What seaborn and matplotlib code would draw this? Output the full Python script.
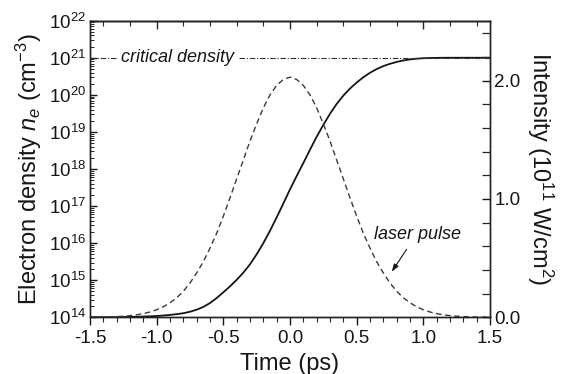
import numpy as np
import matplotlib
matplotlib.use("Agg")
import matplotlib.pyplot as plt
import seaborn as sns
from matplotlib.ticker import (LogLocator, NullFormatter, FixedLocator,
                               FormatStrFormatter, MultipleLocator)

# ---------------- data ----------------
time_ps = [-1.50, -1.45, -1.40, -1.35, -1.30, -1.25, -1.20, -1.15, -1.10, -1.05,
           -1.00, -0.95, -0.90, -0.85, -0.80, -0.75, -0.70, -0.65, -0.60, -0.55,
           -0.50, -0.45, -0.40, -0.35, -0.30, -0.25, -0.20, -0.15, -0.10, -0.05,
           0.00, 0.05, 0.10, 0.15, 0.20, 0.25, 0.30, 0.35, 0.40, 0.45,
           0.50, 0.55, 0.60, 0.65, 0.70, 0.75, 0.80, 0.85, 0.90, 0.95,
           1.00, 1.05, 1.10, 1.15, 1.20, 1.25, 1.30, 1.35, 1.40, 1.45, 1.50]

# log10 of electron density (cm^-3)
log10_density = [14.000, 14.001, 14.002, 14.003, 14.005, 14.007, 14.010, 14.014, 14.020, 14.027,
                 14.035, 14.048, 14.065, 14.085, 14.110, 14.150, 14.205, 14.280, 14.385, 14.520,
                 14.675, 14.835, 15.010, 15.205, 15.430, 15.700, 16.000, 16.335, 16.695, 17.070,
                 17.450, 17.810, 18.160, 18.520, 18.870, 19.190, 19.490, 19.755, 19.980, 20.170,
                 20.330, 20.475, 20.595, 20.695, 20.775, 20.837, 20.887, 20.927, 20.955, 20.975,
                 20.988, 20.994, 20.997, 20.999, 21.000, 21.000, 21.000, 21.000, 21.000, 21.000, 21.000]

# laser intensity (10^11 W/cm^2)
intensity = [0.001, 0.001, 0.002, 0.004, 0.006, 0.009, 0.014, 0.021, 0.031, 0.045,
             0.064, 0.089, 0.123, 0.165, 0.220, 0.290, 0.375, 0.470, 0.585, 0.710,
             0.855, 1.010, 1.170, 1.330, 1.490, 1.635, 1.770, 1.880, 1.960, 2.010,
             2.030, 2.010, 1.960, 1.880, 1.770, 1.635, 1.490, 1.330, 1.170, 1.010,
             0.855, 0.710, 0.585, 0.470, 0.375, 0.290, 0.220, 0.165, 0.123, 0.089,
             0.064, 0.045, 0.031, 0.021, 0.014, 0.009, 0.006, 0.004, 0.002, 0.001, 0.001]

critical_density = 1e21
x_ticklabels = ["-1.5", "-1.0", "-0.5", "0.0", "0.5", "1.0", "1.5"]
right_ticks = [0.0, 1.0, 2.0]

# ---------------- style ----------------
sns.set_style("ticks")
plt.rcParams["font.family"] = ["Liberation Sans", "DejaVu Sans"]
plt.rcParams["mathtext.fontset"] = "custom"
plt.rcParams["mathtext.rm"] = "Liberation Sans"
plt.rcParams["mathtext.it"] = "Liberation Sans:italic"
plt.rcParams["mathtext.bf"] = "Liberation Sans:bold"
plt.rcParams["axes.unicode_minus"] = False

ink = "#161616"
fig = plt.figure(figsize=(5.63, 3.74), dpi=100)
fig.subplots_adjust(left=0.1599, right=0.8703, bottom=0.1516, top=0.9447)
ax = fig.add_subplot(111)
ax.set_yscale("log")
ax2 = ax.twinx()

density = [10.0 ** v for v in log10_density]

sns.lineplot(x=time_ps, y=density, ax=ax, color=ink, lw=1.3,
             estimator=None, sort=False)
sns.lineplot(x=time_ps, y=intensity, ax=ax2, color="#3a3a3a", lw=1.0,
             estimator=None, sort=False)
ax2.lines[-1].set_linestyle((0, (4.0, 2.6)))

# critical density line (broken around its label)
crit_style = (0, (5, 1.6, 1, 1.6))
ax.hlines(critical_density, -1.5, -1.29, colors="#333333", lw=0.8, linestyles=[crit_style])
ax.hlines(critical_density, -0.38, 1.5, colors="#333333", lw=0.8, linestyles=[crit_style])
ax.text(-1.265, critical_density, "critical density", style="italic",
        fontsize=13, color=ink, ha="left", va="center")

# laser pulse annotation
ax2.text(0.955, 0.70, "laser pulse", style="italic", fontsize=13,
         color=ink, ha="center", va="center")
ax2.annotate("", xy=(0.763, 0.385), xytext=(0.875, 0.575),
             arrowprops=dict(arrowstyle="-|>,head_length=0.45,head_width=0.15",
                             color=ink, lw=0.8, shrinkA=0, shrinkB=0))

# ---------------- axes ----------------
ax.set_xlim(-1.5, 1.5)
ax.set_ylim(1e14, 1e22)
ax2.set_ylim(0, 2.507)

ax.set_xticks([-1.5, -1.0, -0.5, 0.0, 0.5, 1.0, 1.5])
ax.set_xticklabels(x_ticklabels)
ax.xaxis.set_minor_locator(MultipleLocator(0.1))
ax.yaxis.set_major_locator(LogLocator(base=10, numticks=20))
ax.yaxis.set_minor_locator(LogLocator(base=10, subs=np.arange(2, 10), numticks=20))
ax.yaxis.set_minor_formatter(NullFormatter())

ax.tick_params(axis="x", which="major", direction="out", length=6, width=1,
               pad=3.5, labelsize=13.5, colors=ink, top=False)
ax.tick_params(axis="x", which="minor", direction="out", length=3.5, width=0.8,
               top=False)
ax.tick_params(axis="y", which="major", direction="in", length=5, width=1,
               pad=3, labelsize=13.5, colors=ink)
ax.tick_params(axis="y", which="minor", direction="in", length=2.6, width=0.7)

ax2.yaxis.set_major_locator(FixedLocator(right_ticks))
ax2.yaxis.set_major_formatter(FormatStrFormatter("%.1f"))
ax2.yaxis.set_minor_locator(MultipleLocator(0.2))
ax2.tick_params(axis="y", which="major", direction="in", length=5.5, width=1,
                pad=3, labelsize=13.5, colors=ink)
ax2.tick_params(axis="y", which="minor", direction="in", length=5.5, width=0.9)

sec = ax.secondary_xaxis("top")
sec.set_xticks([-1.0, 0.0, 1.0])
sec.xaxis.set_minor_locator(MultipleLocator(0.2))
sec.tick_params(axis="x", which="major", direction="in", length=5.5, width=1,
                labeltop=False)
sec.tick_params(axis="x", which="minor", direction="in", length=3.3, width=0.8)

for a in (ax, ax2):
    for s in a.spines.values():
        s.set_color("#222222")
        s.set_linewidth(1.0)
sec.spines["top"].set_color("#222222")
sec.spines["top"].set_linewidth(1.0)

ax.set_xlabel("Time (ps)", fontsize=17, color=ink, labelpad=4)
ax.set_ylabel(r"Electron density $n_e$ (cm$^{-3}$)", fontsize=17, color=ink, labelpad=3)
ax2.set_ylabel(r"Intensity (10$^{11}$ W/cm$^{2}$)", fontsize=17, color=ink,
               rotation=270, va="center", ha="center")
ax2.yaxis.set_label_coords(1.125, 0.5)

fig.savefig("out.png", dpi=100)
